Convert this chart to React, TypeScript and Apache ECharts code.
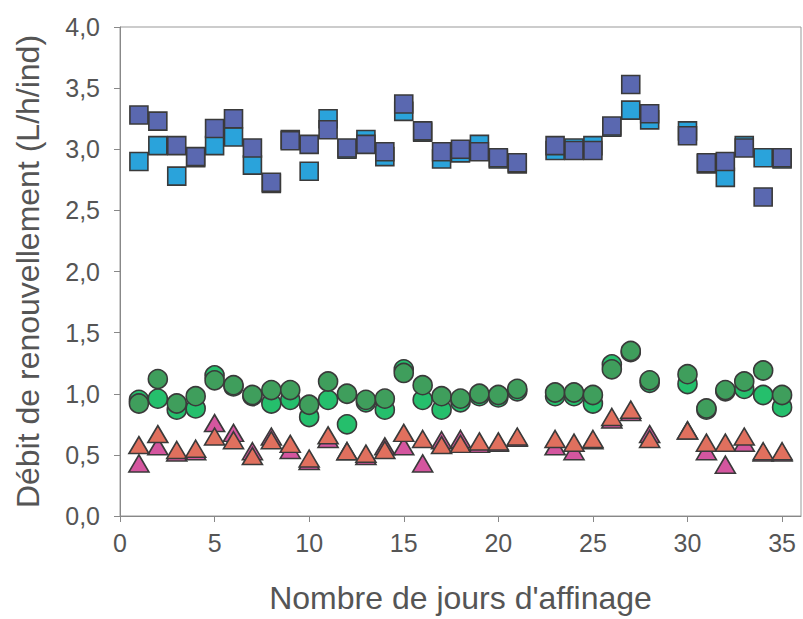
import React, { useEffect, useRef } from "react";
import * as echarts from "echarts";

const days = [1,2,3,4,5,6,7,8,9,10,11,12,13,14,15,16,17,18,19,20,21,23,24,25,26,27,28,30,31,32,33,34,35];
const darkBlue = [3.28,3.23,3.03,2.94,3.17,3.25,3.01,2.73,3.07,3.04,3.16,3.01,3.04,2.98,3.37,3.15,2.98,3.00,2.98,2.93,2.89,3.03,2.99,2.99,3.19,3.53,3.29,3.11,2.89,2.90,3.01,2.61,2.93];
const lightBlue = [2.90,3.03,2.78,2.93,3.03,3.10,2.87,2.72,3.08,2.82,3.25,3.00,3.08,2.94,3.31,3.14,2.92,2.97,3.04,2.92,2.88,2.99,3.01,3.03,3.18,3.32,3.24,3.15,2.88,2.77,3.03,2.93,2.92];
const darkGreen = [0.92,1.12,0.92,0.98,1.11,1.07,0.99,1.03,1.03,0.91,1.10,1.00,0.95,0.96,1.17,1.07,0.98,0.96,1.00,0.99,1.04,1.01,1.01,0.99,1.20,1.35,1.11,1.16,0.88,1.03,1.10,1.19,0.99];
const brightGreen = [0.95,0.96,0.87,0.88,1.15,1.06,0.98,0.92,0.95,0.81,0.95,0.75,0.93,0.87,1.20,0.95,0.87,0.93,0.98,0.97,1.02,0.98,0.98,0.92,1.24,1.34,1.09,1.08,0.87,1.02,1.04,0.99,0.89];
const salmon = [0.58,0.67,0.54,0.55,0.65,0.62,0.49,0.62,0.59,0.47,0.66,0.53,0.51,0.54,0.68,0.63,0.58,0.59,0.61,0.61,0.65,0.63,0.60,0.63,0.81,0.87,0.63,0.70,0.60,0.60,0.65,0.53,0.53];
const pink = [0.43,0.57,0.52,0.53,0.76,0.68,0.53,0.65,0.54,0.45,0.63,0.53,0.49,0.57,0.57,0.43,0.62,0.63,0.59,0.60,0.64,0.57,0.53,0.62,0.79,0.85,0.67,0.70,0.53,0.42,0.60,0.52,0.52];
const xTicks = [0,5,10,15,20,25,30,35];

const xTitle = "Nombre de jours d'affinage";
const yTitle = "Débit de renouvellement (L/h/ind)";

const pairs = (vals: number[]) => days.map((d, i) => [d, vals[i]]);

export default function App() {
  const ref = useRef<HTMLDivElement>(null);
  useEffect(() => {
    if (!ref.current) return;
    const chart = echarts.init(ref.current, null, { renderer: "svg" });
    const textColor = "#555";
    const font = "'Liberation Sans', Arial, sans-serif";
    const mk = (name: string, vals: number[], symbol: string, size: any, color: string) => ({
      name,
      type: "scatter",
      data: pairs(vals),
      symbol,
      symbolSize: size,
      itemStyle: { color, borderColor: "#3a3a3a", borderWidth: 1.6, opacity: 1 },
      emphasis: { disabled: true },
    });
    chart.setOption({
      animation: false,
      backgroundColor: "#fff",
      textStyle: { fontFamily: font },
      grid: {
        left: 120, right: 2, top: 27, bottom: 99,
        show: true, borderColor: "#999", borderWidth: 1, backgroundColor: "transparent",
      },
      xAxis: {
        type: "value", min: 0, max: 36, interval: 5,
        name: xTitle, nameLocation: "middle", nameGap: 66,
        nameTextStyle: { fontSize: 32, color: textColor, fontFamily: font },
        axisLine: { lineStyle: { color: "#888", width: 1 } },
        axisTick: { show: true, length: 6, lineStyle: { color: "#888" }, customValues: xTicks },
        axisLabel: { fontSize: 25, color: textColor, margin: 14, fontFamily: font, customValues: xTicks },
        splitLine: { show: false },
      },
      yAxis: {
        type: "value", min: 0, max: 4, interval: 0.5,
        name: yTitle, nameLocation: "middle", nameGap: 76, nameRotate: 90,
        nameTextStyle: { fontSize: 32, color: textColor, fontFamily: font },
        axisLine: { show: true, lineStyle: { color: "#888", width: 1 } },
        axisTick: { show: true, length: 6, lineStyle: { color: "#888" } },
        axisLabel: {
          fontSize: 25, color: textColor, margin: 20, fontFamily: font,
          formatter: (v: number) => v.toFixed(1).replace(".", ","),
        },
        splitLine: { show: false },
      },
      series: [
        mk("Bleu clair", lightBlue, "rect", 18, "#2aa3db"),
        mk("Bleu foncé", darkBlue, "rect", 18, "#5a68b0"),
        mk("Vert clair", brightGreen, "circle", 19, "#25bf6c"),
        mk("Vert foncé", darkGreen, "circle", 19, "#3f9e5c"),
        mk("Rose", pink, "triangle", [20, 17], "#d4569f"),
        mk("Saumon", salmon, "triangle", [20, 17], "#e0705e"),
      ],
    });
    return () => chart.dispose();
  }, []);
  return (
    <div
      ref={ref}
      style={{ position: "fixed", left: 0, top: 0, width: 803, height: 619, background: "#fff" }}
    />
  );
}
